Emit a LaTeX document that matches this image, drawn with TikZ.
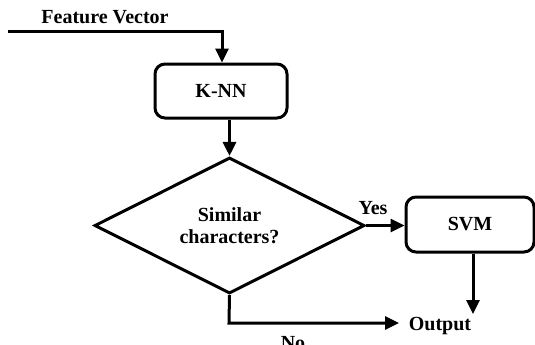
\documentclass[tikz,border=0pt]{standalone}
\usepackage{fontspec}
\setmainfont{Liberation Serif}
\usetikzlibrary{shapes.geometric,arrows.meta,calc}
\begin{document}
\begin{tikzpicture}[x=0.5pt,y=-0.5pt,
  line width=1.5pt,
  every node/.style={font=\fontsize{10}{11}\selectfont\bfseries},
  block/.style={draw,rectangle,rounded corners=5pt,inner sep=0pt},
  decision/.style={draw,diamond,inner sep=0pt,align=center,minimum width=135pt,minimum height=67.5pt},
  arr/.style={-{Triangle[length=7pt,width=6.5pt]}},
  lbl/.style={inner sep=0pt}]
\useasboundingbox (0,0) rectangle (535,344);
\node[block,minimum width=66pt,minimum height=27pt] (knn) at (221,91) {K-NN};
\node[decision] (dia) at (229.5,225.5) {Similar\\characters?};
\node[block,minimum width=64pt,minimum height=27.5pt] (svm) at (470,224.5) {SVM};
\node[lbl,anchor=base] (out) at (440,330) {Output};
\node[lbl] (fvt) at (105,17) {Feature Vector};
\node[lbl] (yes) at (373,208) {Yes};
\node[lbl,anchor=north] (no) at (293,335) {No};
\coordinate (fv) at (8,31);
\coordinate (fvc) at (222,31);
\coordinate (bend) at (229,323);
\coordinate (notip) at (399,323);
\coordinate (svmtip) at (473,314);
\draw[arr] (fv) -- (fvc) -- (fvc |- knn.north);
\draw[arr] (knn.south -| dia.north) -- (dia.north);
\draw[arr] (dia.east) -- (dia.east -| svm.west);
\draw[arr] (svm.south -| svmtip) -- (svmtip);
\draw[arr] (dia.south) -- (bend) -- (notip);
\end{tikzpicture}
\end{document}
